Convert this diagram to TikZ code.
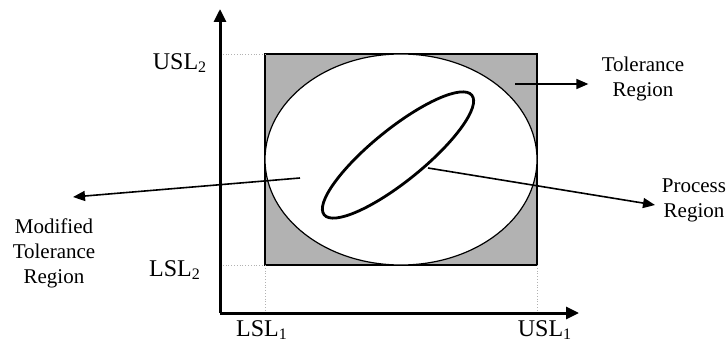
\documentclass[tikz,border=0pt]{standalone}
\usepackage{fontspec}
\setmainfont{Liberation Serif}
\usetikzlibrary{arrows.meta}

\tikzset{
  axis/.style={line width=1.5pt, -{Triangle[length=6.5pt,width=6pt]}},
  pointer/.style={line width=0.8pt, -{Triangle[length=6pt,width=5pt]}},
  guide/.style={gray!60, densely dotted, line width=0.4pt},
  limlbl/.style={font=\fontsize{12}{12}\selectfont, inner sep=0pt},
  regionlbl/.style={font=\fontsize{10.5}{12.5}\selectfont, align=center, inner sep=1pt}
}

\begin{document}
\begin{tikzpicture}[x=0.5pt, y=-0.5pt]
  \useasboundingbox (0,0) rectangle (727,342);
  % corners of the tolerance rectangle
  \coordinate (O) at (220,313);
  \coordinate (LL) at (265,265);
  \coordinate (UR) at (537,54);
  % tolerance region and modified (inscribed) region
  \draw[fill=gray!60, line width=0.75pt] (LL) rectangle (UR);
  \draw[fill=white, line width=0.6pt] (401,159.5) ellipse[x radius=136, y radius=105.5];
  % process region
  \draw[line width=1.4pt] (398,155) ellipse[x radius=95, y radius=26, rotate=39];
  % guide lines to the axes
  \draw[guide] (220,54) -- (265,54);
  \draw[guide] (220,265) -- (LL);
  \draw[guide] (LL) -- (265,313);
  \draw[guide] (537,265) -- (537,313);
  % axes
  \draw[axis] (O) -- (220,9);
  \draw[axis] (O) -- (579,313);
  % limit labels
  \node[limlbl] (usl2) at (180,63) {USL\textsubscript{2}};
  \node[limlbl] (lsl2) at (175,270) {LSL\textsubscript{2}};
  \node[limlbl, anchor=south] (lsl1) at (262,340) {LSL\textsubscript{1}};
  \node[limlbl, anchor=south] (usl1) at (545,340) {USL\textsubscript{1}};
  % region labels
  \node[regionlbl] (tol) at (643,79) {Tolerance\\Region};
  \node[regionlbl] (mod) at (54,253) {Modified\\Tolerance\\Region};
  \node[regionlbl] (proc) at (694,200) {Process\\Region};
  % pointers
  \coordinate (tolIn) at (515,84);
  \coordinate (modIn) at (300,178);
  \coordinate (procIn) at (428,168);
  \coordinate (modTip) at (73,197);
  \coordinate (procTip) at (655,205);
  \draw[pointer, shorten >=5.5pt] (tolIn) -- (tolIn -| tol.west);
  \draw[pointer] (modIn) -- (modTip);
  \draw[pointer] (procIn) -- (procTip);
\end{tikzpicture}
\end{document}
